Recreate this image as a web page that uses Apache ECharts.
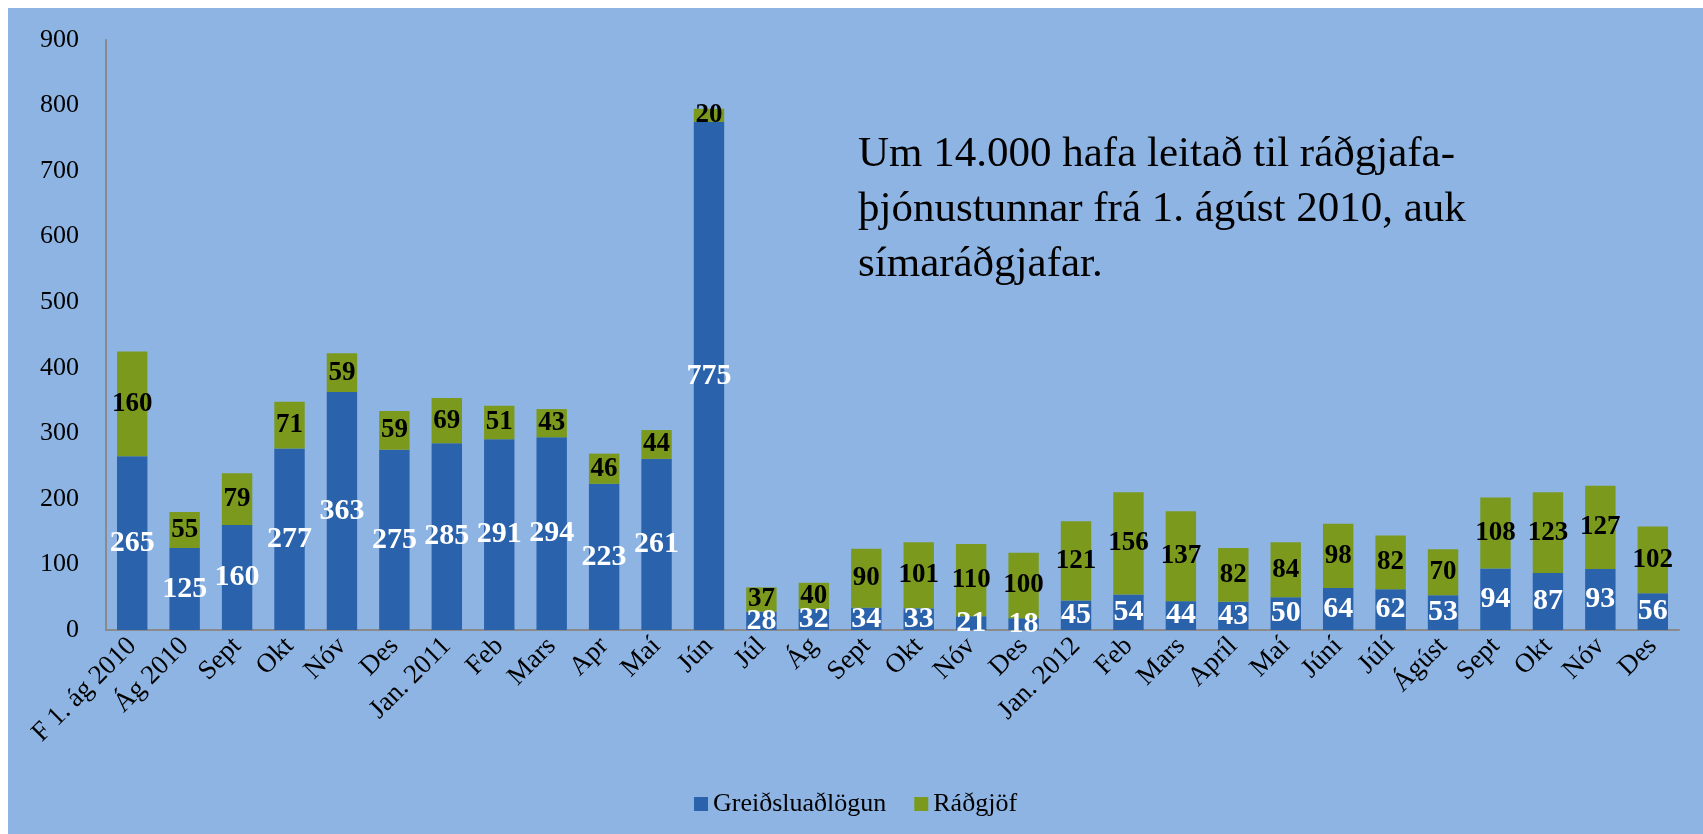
<!DOCTYPE html>
<html>
<head>
<meta charset="utf-8">
<script src="https://cdn.jsdelivr.net/npm/echarts@6/dist/echarts.min.js"></script>
<style>
  html, body { margin: 0; padding: 0; background: #ffffff; }
  #chart { position: absolute; left: 8px; top: 8px; width: 1695px; height: 826px; }
</style>
</head>
<body>
<div id="chart"></div>
<script>
var categories = ['F 1. ág 2010', 'Ág 2010', 'Sept', 'Okt', 'Nóv', 'Des', 'Jan. 2011', 'Feb', 'Mars', 'Apr', 'Maí', 'Jún',
    'Júl', 'Ág', 'Sept', 'Okt', 'Nóv', 'Des', 'Jan. 2012', 'Feb', 'Mars', 'Apríl', 'Maí', 'Júní', 'Júlí', 'Ágúst',
    'Sept', 'Okt', 'Nóv', 'Des'];
var greidsluadlogun = [265, 125, 160, 277, 363, 275, 285, 291, 294, 223, 261, 775,
    28, 32, 34, 33, 21, 18, 45, 54, 44, 43, 50, 64, 62, 53, 94, 87, 93, 56];
var radgjof = [160, 55, 79, 71, 59, 59, 69, 51, 43, 46, 44, 20,
    37, 40, 90, 101, 110, 100, 121, 156, 137, 82, 84, 98, 82, 70, 108, 123, 127, 102];
var yTicks = [0, 100, 200, 300, 400, 500, 600, 700, 800, 900];
var note = ['Um 14.000 hafa leitað til ráðgjafa-', 'þjónustunnar frá 1. ágúst 2010, auk', 'símaráðgjafar.'];

var serif = '"Liberation Serif", "DejaVu Serif", serif';

var chart = echarts.init(document.getElementById('chart'));
chart.setOption({
    backgroundColor: '#8EB4E3',
    animation: false,
    grid: { left: 98, right: 24, top: 32, bottom: 204, containLabel: false },
    legend: {
        bottom: 12,
        left: 'center',
        itemWidth: 14,
        itemHeight: 14,
        itemGap: 28,
        icon: 'rect',
        textStyle: { fontFamily: serif, fontSize: 26, color: '#000' },
        data: ['Greiðsluaðlögun', 'Ráðgjöf']
    },
    xAxis: {
        type: 'category',
        data: categories,
        axisLine: { lineStyle: { color: '#8a8a8a', width: 2 } },
        axisTick: { show: false },
        axisLabel: { rotate: 45, margin: 12, interval: 0, fontFamily: serif, fontSize: 27, color: '#000' }
    },
    yAxis: {
        type: 'value',
        min: yTicks[0],
        max: yTicks[yTicks.length - 1],
        interval: 100,
        splitLine: { show: false },
        axisLine: { show: true, lineStyle: { color: '#8a8a8a', width: 2 } },
        axisTick: { show: false },
        axisLabel: { margin: 27, fontFamily: serif, fontSize: 26, color: '#000' }
    },
    graphic: note.map(function (line, i) {
        return {
            type: 'text',
            left: 850,
            top: 125 + i * 55,
            style: { text: line, font: '43px ' + serif, fill: '#000' }
        };
    }),
    series: [
        {
            name: 'Greiðsluaðlögun',
            type: 'bar',
            stack: 'total',
            barWidth: '58%',
            itemStyle: { color: '#2A62AB' },
            label: {
                show: true,
                position: 'inside',
                color: '#fff',
                fontFamily: serif,
                fontWeight: 'bold',
                fontSize: 30
            },
            data: greidsluadlogun
        },
        {
            name: 'Ráðgjöf',
            type: 'bar',
            stack: 'total',
            barWidth: '58%',
            itemStyle: { color: '#7B9A1D' },
            label: {
                show: true,
                position: 'inside',
                color: '#000',
                fontFamily: serif,
                fontWeight: 'bold',
                fontSize: 27
            },
            data: radgjof
        }
    ]
});
</script>
</body>
</html>
